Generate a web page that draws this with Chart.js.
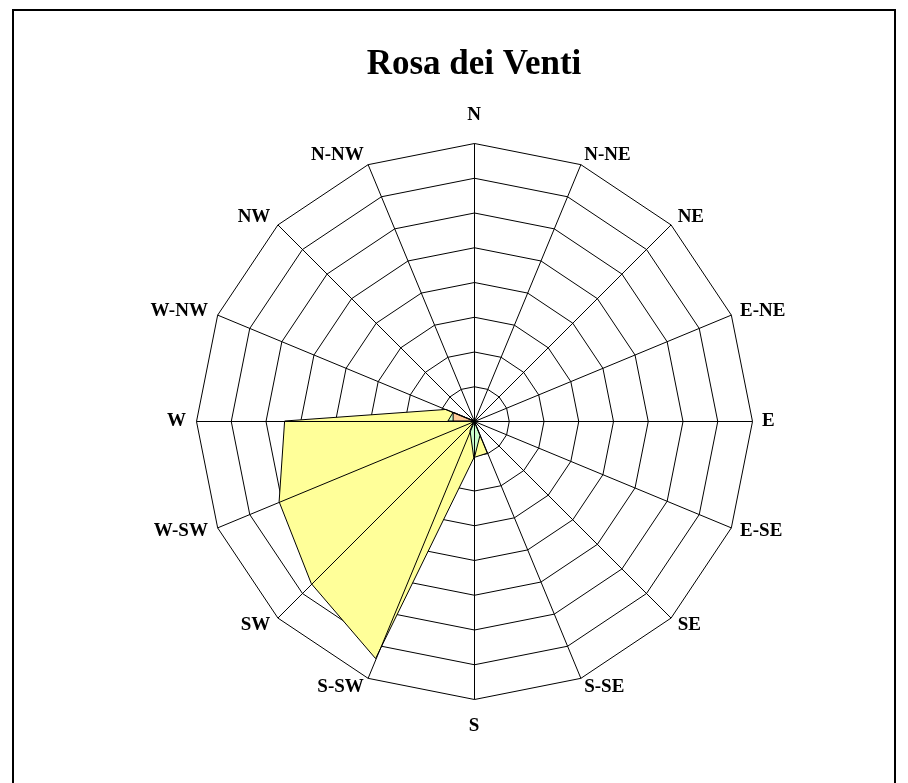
<!DOCTYPE html>
<html>
<head>
<meta charset="utf-8">
<title>Rosa dei Venti</title>
<script src="https://cdn.jsdelivr.net/npm/chart.js@4/dist/chart.umd.min.js"></script>
<style>
  html, body { margin: 0; padding: 0; background: #fff; }
  #holder { position: relative; width: 908px; height: 783px; overflow: hidden; }
  #chart { position: absolute; left: 0; top: 0; }
  .frame {
    position: absolute; left: 12px; top: 9px; width: 880px; height: 800px;
    border: 2px solid #000; pointer-events: none;
  }
</style>
</head>
<body>
<div id="holder">
  <canvas id="chart" width="908" height="783"></canvas>
  <div class="frame"></div>
</div>
<script>
// direzioni della rosa, in senso orario da N
const directions = ['N', 'N-NE', 'NE', 'E-NE', 'E', 'E-SE', 'SE', 'S-SE',
  'S', 'S-SW', 'SW', 'W-SW', 'W', 'W-NW', 'NW', 'N-NW'];

// valori (scala 0-8, 8 anelli)
const serieGialla = [0, 0, 0, 0, 0, 0, 0, 1.0, 1.05, 7.4, 6.62, 6.07, 5.45, 0.87, 0, 0];
const serieVerde = [0, 0, 0, 0, 0, 0, 0, 0.45, 1.1, 0.3, 0, 0, 0.75, 0.65, 0, 0];
const serieArancio = [0, 0, 0, 0, 0, 0, 0, 0, 0, 0, 0, 0, 0.6, 0.65, 0, 0];

const scaleMax = 8;
const scaleStep = 1;
const labelFont = 'bold 19px "Liberation Serif"';
const labelGap = 10;

const makeDataset = (label, data, color, order) => {
  return {
    label: label,
    data: data,
    backgroundColor: color,
    borderColor: '#000',
    borderWidth: 1,
    pointRadius: 0,
    tension: 0,
    fill: true,
    order: order,
  };
};

// anelli sotto le aree, raggi sopra, etichette alla maniera di Excel
const rosaPlugin = {
  id: 'rosa',
  beforeDatasetsDraw(chart) {
    const scale = chart.scales.r;
    const ctx = chart.ctx;
    ctx.save();
    ctx.translate(0.5, 0.5);
    ctx.strokeStyle = '#000';
    ctx.lineWidth = 1;
    for (let v = scaleStep; v <= scaleMax; v += scaleStep) {
      const dist = scale.getDistanceFromCenterForValue(v);
      ctx.beginPath();
      for (let i = 0; i < directions.length; i++) {
        const p = scale.getPointPosition(i, dist);
        if (i === 0) ctx.moveTo(p.x, p.y);
        else ctx.lineTo(p.x, p.y);
      }
      ctx.closePath();
      ctx.stroke();
    }
    ctx.restore();
  },
  afterDatasetsDraw(chart) {
    const scale = chart.scales.r;
    const ctx = chart.ctx;
    ctx.save();
    ctx.translate(0.5, 0.5);
    ctx.strokeStyle = '#000';
    ctx.lineWidth = 1;
    for (let i = 0; i < directions.length; i++) {
      const p = scale.getPointPosition(i, scale.drawingArea);
      ctx.beginPath();
      ctx.moveTo(scale.xCenter, scale.yCenter);
      ctx.lineTo(p.x, p.y);
      ctx.stroke();
    }
    ctx.restore();
  },
  afterDraw(chart) {
    const scale = chart.scales.r;
    const ctx = chart.ctx;
    ctx.save();
    ctx.font = labelFont;
    ctx.fillStyle = '#000';
    ctx.textBaseline = 'middle';
    directions.forEach((d, i) => {
      const p = scale.getPointPosition(i, scale.drawingArea + labelGap);
      const dx = p.x - scale.xCenter;
      let y = p.y;
      if (Math.abs(dx) < 1) {
        ctx.textAlign = 'center';
        y += p.y < scale.yCenter ? -18 : 17;
      } else {
        ctx.textAlign = dx < 0 ? 'right' : 'left';
      }
      ctx.fillText(d, p.x, y);
    });
    ctx.restore();
  },
};

const chart = new Chart(document.getElementById('chart'), {
  type: 'radar',
  data: {
    labels: directions,
    datasets: [
      makeDataset('giallo', serieGialla, '#FFFF99', 3),
      makeDataset('verde', serieVerde, '#CCFFCC', 2),
      makeDataset('arancio', serieArancio, '#FFCC99', 1),
    ],
  },
  options: {
    responsive: false,
    animation: false,
    devicePixelRatio: 1,
    layout: {
      padding: { left: 40, right: 0, top: 0, bottom: 84 },
    },
    plugins: {
      legend: { display: false },
      tooltip: { enabled: false },
      title: {
        display: true,
        text: 'Rosa dei Venti',
        color: '#000',
        font: { family: 'Liberation Serif', size: 35, weight: 'bold' },
        padding: { top: 44, bottom: 57 },
      },
    },
    scales: {
      r: {
        min: 0,
        max: scaleMax,
        beginAtZero: true,
        ticks: { display: false, stepSize: scaleStep },
        grid: { display: false },
        angleLines: { display: false },
        pointLabels: { display: false },
      },
    },
  },
  plugins: [rosaPlugin],
});
</script>
</body>
</html>
